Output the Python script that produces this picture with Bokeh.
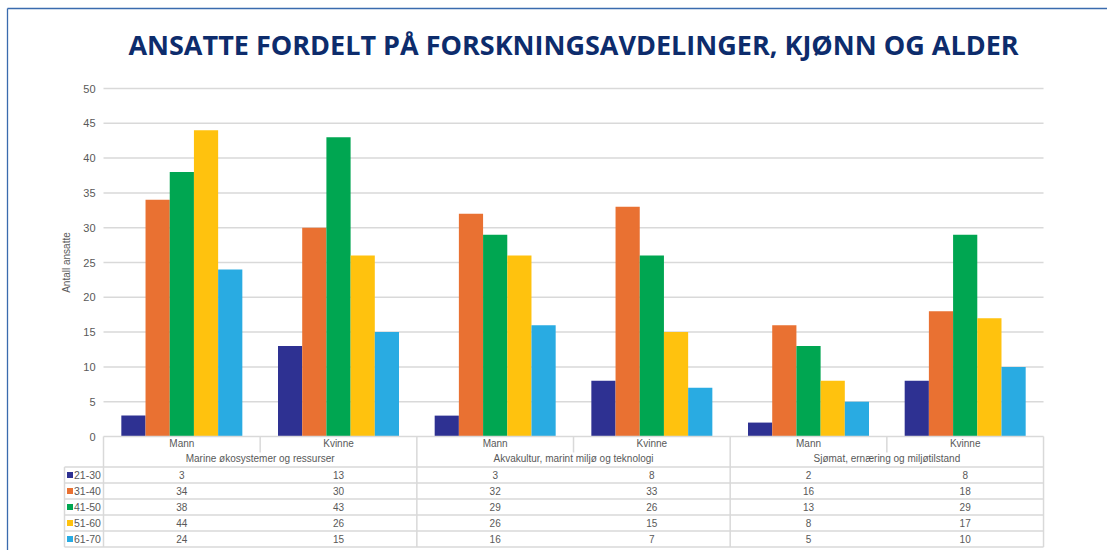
from bokeh.plotting import figure
from bokeh.models import Range1d, ColumnDataSource
from bokeh.core.properties import value
from bokeh.embed import file_html
from bokeh.resources import INLINE

# ---- data ----
title_text = "ANSATTE FORDELT PÅ FORSKNINGSAVDELINGER, KJØNN OG ALDER"
groups = ["Marine økosystemer og ressurser",
          "Akvakultur, marint miljø og teknologi",
          "Sjømat, ernæring og miljøtilstand"]
genders = ["Mann", "Kvinne"]
series_names = ["21-30", "31-40", "41-50", "51-60", "61-70"]
s_21_30 = [3, 13, 3, 8, 2, 8]
s_31_40 = [34, 30, 32, 33, 16, 18]
s_41_50 = [38, 43, 29, 26, 13, 29]
s_51_60 = [44, 26, 26, 15, 8, 17]
s_61_70 = [24, 15, 16, 7, 5, 10]
y_ticks = [0, 5, 10, 15, 20, 25, 30, 35, 40, 45, 50]
y_label = "Antall ansatte"

series_values = [s_21_30, s_31_40, s_41_50, s_51_60, s_61_70]
colors = ["#2E3192", "#E97132", "#00A651", "#FFC20E", "#29ABE2"]

# ---- layout (picture pixels -> data units) ----
PXU = 156.67   # px per category
PYU = 6.96     # px per unit
X0PX, Y0PX = 103.0, 436.0
W, H = 1107, 550
def X(px): return (px - X0PX) / PXU
def Y(py): return (Y0PX - py) / PYU

x_start, x_end = X(0), X(W)
y_end, y_start = Y(0), Y(H)

p = figure(width=W, height=H, output_backend="svg", toolbar_location=None,
           x_range=Range1d(x_start, x_end), y_range=Range1d(y_start, y_end),
           x_axis_location=None, y_axis_location=None, min_border=0,
           title=None)
p.grid.visible = False
p.outline_line_color = None
p.background_fill_color = "white"
p.border_fill_color = "white"

FONT = value("Liberation Sans")
TXT = "#595959"
GRID = "#D9D9D9"

# border (top & left)
p.segment(x0=[X(7), X(7)], y0=[Y(8), Y(8)], x1=[x_end, X(7)], y1=[Y(8), y_start],
          line_color="#3A6BAE", line_width=1.3)

# title
p.text(x=[3], y=[Y(44)], text=[title_text], text_font=value("Open Sans"),
       text_font_style="bold", text_font_size="27px", text_color="#0D2C6C",
       text_align="center", text_baseline="middle")

# gridlines
gt = [t for t in y_ticks if t > 0]
p.segment(x0=[0] * len(gt), y0=gt, x1=[6] * len(gt), y1=gt, line_color=GRID, line_width=1.5)

# y tick labels
p.text(x=[X(95)] * len(y_ticks), y=y_ticks, text=[str(t) for t in y_ticks],
       text_font=FONT, text_font_size="11px", text_color=TXT,
       text_align="right", text_baseline="middle")
# y axis title
p.text(x=[X(66)], y=[25], text=[y_label], angle=1.5708, text_font=FONT,
       text_font_size="10px", text_color=TXT, text_align="center", text_baseline="middle")

# bars
ncat = len(s_21_30)
bw = 24.2 / PXU
for j, (vals, col) in enumerate(zip(series_values, colors)):
    xs = [i + 0.5 + (j - 2) * bw for i in range(ncat)]
    src = ColumnDataSource(dict(x=xs, top=vals))
    p.vbar(x="x", top="top", bottom=0, width=bw, source=src, fill_color=col, line_color=None)

# ---- data table ----
row_top = 466.5
row_h = 16.0
bottom = row_top + row_h * len(series_names)
hx0, hx1, hy, hy1 = [], [], [], []
hx0 += [0]; hx1 += [6]; hy += [0]; hy1 += [0]
for r in range(len(series_names) + 1):
    yy = Y(row_top + r * row_h)
    hx0.append(X(64)); hx1.append(6); hy.append(yy); hy1.append(yy)
p.segment(x0=hx0, y0=hy, x1=hx1, y1=hy1, line_color=GRID, line_width=1.5)
vx, vy0, vy1 = [], [], []
for k in range(ncat + 1):
    vx.append(k); vy0.append(0)
    vy1.append(Y(bottom) if k % 2 == 0 else Y(452))
vx.append(X(64)); vy0.append(Y(row_top)); vy1.append(Y(bottom))
p.segment(x0=vx, y0=vy0, x1=vx, y1=vy1, line_color=GRID, line_width=1.5)

# gender header
p.text(x=[i + 0.5 for i in range(ncat)], y=[Y(443)] * ncat,
       text=[genders[i % 2] for i in range(ncat)], text_font=FONT, text_font_size="10px",
       text_color=TXT, text_align="center", text_baseline="middle")
# group header
p.text(x=[2 * g + 1 for g in range(len(groups))], y=[Y(458)] * len(groups), text=groups,
       text_font=FONT, text_font_size="10px", text_color=TXT,
       text_align="center", text_baseline="middle")
# values
for j, vals in enumerate(series_values):
    yy = Y(row_top + row_h * (j + 0.5))
    p.text(x=[i + 0.5 for i in range(ncat)], y=[yy] * ncat, text=[str(v) for v in vals],
           text_font=FONT, text_font_size="10px", text_color=TXT,
           text_align="center", text_baseline="middle")
# legend keys
ly = [Y(row_top + row_h * (j + 0.5)) for j in range(len(series_names))]
p.rect(x=[X(69.5)] * len(ly), y=ly, width=6, height=6, width_units="screen",
       height_units="screen", fill_color=colors, line_color=None)
p.text(x=[X(73.5)] * len(ly), y=ly, text=series_names, text_font=FONT,
       text_font_size="10.5px", text_color=TXT, text_align="left", text_baseline="middle")

open("out.html", "w").write(file_html(p, INLINE))
